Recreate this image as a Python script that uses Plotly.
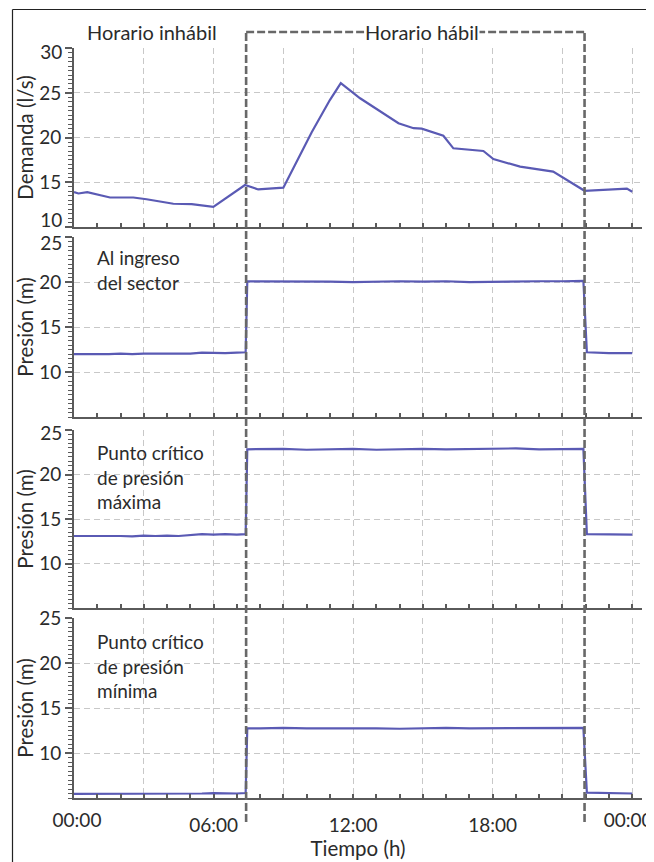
import plotly.graph_objects as go

# ---------------- data ----------------
demand_time = [0.0, 0.19, 0.57, 1.55, 2.55, 3.12, 4.27, 5.06, 5.99, 7.35, 7.92, 9.0,
               10.22, 11.0, 11.47, 12.3, 13.95, 14.6, 14.95, 15.88, 16.31, 17.6,
               18.03, 19.18, 20.6, 21.95, 23.77, 24.0]
demand_ls = [13.9, 13.75, 13.9, 13.3, 13.3, 13.1, 12.6, 12.55, 12.25, 14.7, 14.2, 14.4,
             20.6, 24.2, 26.1, 24.4, 21.6, 21.05, 21.0, 20.2, 18.8, 18.5,
             17.6, 16.75, 16.2, 14.05, 14.3, 13.95]

pressure_time = [0, 0.5, 1, 1.5, 2, 2.5, 3, 3.5, 4, 4.5, 5, 5.5, 6, 6.5, 7, 7.38,
                 7.45, 8, 9, 10, 11, 12, 13, 14, 15, 16, 17, 18, 19, 20, 21, 21.9,
                 22.05, 23, 24]
p_ingreso = [12.0, 12.0, 11.95, 12.0, 12.05, 12.0, 12.05, 12.05, 12.0, 12.05, 12.05, 12.15,
             12.1, 12.1, 12.15, 12.2,
             20.1, 20.1, 20.05, 20.1, 20.05, 20.0, 20.05, 20.1, 20.05, 20.1, 20.0, 20.05,
             20.1, 20.1, 20.1, 20.15,
             12.2, 12.1, 12.1]
p_maxima = [13.1, 13.1, 13.15, 13.1, 13.1, 13.05, 13.15, 13.1, 13.15, 13.1, 13.2, 13.3,
            13.25, 13.3, 13.25, 13.3,
            22.85, 22.85, 22.9, 22.8, 22.85, 22.9, 22.8, 22.85, 22.9, 22.85, 22.9, 22.95,
            22.95, 22.85, 22.85, 22.9,
            13.3, 13.25, 13.25]
p_minima = [5.45, 5.45, 5.5, 5.45, 5.45, 5.5, 5.45, 5.5, 5.45, 5.45, 5.5, 5.5,
            5.55, 5.5, 5.5, 5.55,
            12.75, 12.75, 12.8, 12.75, 12.75, 12.8, 12.75, 12.7, 12.75, 12.8, 12.75, 12.75,
            12.8, 12.8, 12.75, 12.8,
            5.6, 5.55, 5.5]

x_tickvals = [0, 3, 6, 9, 12, 15, 18, 21, 24]
x_ticktext = ["00:00", "", "06:00", "", "12:00", "", "18:00", "", "00:00"]
demand_ticks = [10, 15, 20, 25, 30]
pressure_ticks = [10, 15, 20, 25]

HABIL_START = 7.4
HABIL_END = 21.95

panel_labels = ["Al ingreso<br>del sector",
                "Punto crítico<br>de presión<br>máxima",
                "Punto crítico<br>de presión<br>mínima"]

# ---------------- style ----------------
FONT = "Lato"
TXT = "#2b2b2b"
LINE = "#5a5ab4"
AX = "#5a5a5a"
GRID = "#c8c8c8"
GDASH = "6px,4px"
TICKFONT = dict(family=FONT, size=19, color=TXT)
TITLEFONT = dict(family=FONT, size=20.5, color=TXT)
X_LABEL_STANDOFF = 9

OFF = 8  # page body margin
W, H = 654 - OFF, 862 - OFF
ML, MR, MT, MB = 74 - OFF, 12, 48 - OFF, 64
PH = H - MT - MB
PW = W - ML - MR


def py(px_page):
    return (H - MB - (px_page - OFF)) / PH


def px(px_page):
    return ((px_page - OFF) - ML) / PW


domains = [
    [py(227), py(48)],
    [py(417), py(237)],
    [py(608), py(430)],
    [py(798), py(618)],
]

fig = go.Figure()
series = [(demand_time, demand_ls), (pressure_time, p_ingreso),
          (pressure_time, p_maxima), (pressure_time, p_minima)]
for i, (t, v) in enumerate(series, start=1):
    fig.add_trace(go.Scatter(x=t, y=v, mode="lines",
                             line=dict(color=LINE, width=2.2),
                             xaxis=f"x{i}", yaxis=f"y{i}", showlegend=False,
                             hoverinfo="skip"))

xrange = [0, 24.42]
yranges = [[10, 30.02], [5, 25.02], [5, 25.02], [5, 25.02]]
# labels drawn at the panel edges are pulled inward, as in the source figure
edge_y_labels = {1: [(30, 4), (10, -7)], 2: [(25, 6)], 3: [(25, 3)]}

for i in range(1, 5):
    xa = dict(domain=[0, 1], anchor=f"y{i}", range=xrange, autorange=False,
              automargin=False,
              tickmode="array", tickvals=x_tickvals,
              ticktext=([""] + x_ticktext[1:-1] + [""]) if i == 4 else [""] * len(x_tickvals),
              showticklabels=(i == 4), ticklabeloverflow="allow",
              ticklabelstandoff=X_LABEL_STANDOFF,
              ticks="inside", ticklen=4, tickcolor=AX, tickwidth=1.5,
              minor=dict(tickmode="linear", tick0=0, dtick=1, ticks="inside",
                         ticklen=4, tickcolor=AX, tickwidth=1.5, showgrid=False),
              showgrid=True, gridcolor=GRID, griddash=GDASH, gridwidth=1.2,
              showline=True, linecolor=AX, linewidth=2, zeroline=False,
              tickfont=TICKFONT)
    if i != 4:
        xa["matches"] = "x4"
    else:
        xa["title"] = dict(text="Tiempo (h)", font=TITLEFONT, standoff=5)
    yt = demand_ticks if i == 1 else pressure_ticks
    edge_vals = [v for v, _ in edge_y_labels.get(i, [])]
    ya = dict(domain=domains[i - 1], anchor=f"x{i}", automargin=False,
              range=yranges[i - 1], autorange=False,
              tickmode="array", tickvals=yt,
              ticktext=["" if v in edge_vals else str(v) for v in yt],
              ticks="outside", ticklen=7, tickcolor=AX, tickwidth=1.5,
              minor=dict(tickmode="linear", tick0=0, dtick=0.5, ticks="outside",
                         ticklen=4, tickcolor=AX, tickwidth=1.2, showgrid=False),
              showgrid=True, gridcolor=GRID, griddash=GDASH, gridwidth=1.2,
              showline=True, linecolor=AX, linewidth=2, zeroline=False,
              tickfont=TICKFONT,
              title=dict(text="Demanda (l/s)" if i == 1 else "Presión (m)",
                         font=TITLEFONT, standoff=0))
    fig.layout[f"xaxis{'' if i == 1 else i}"] = xa
    fig.layout[f"yaxis{'' if i == 1 else i}"] = ya

# overlay axes carrying only the edge tick labels (shifted inward)
n = 5
for i, items in edge_y_labels.items():
    for v, shift in items:
        fig.layout[f"yaxis{n}"] = dict(
            overlaying="y" if i == 1 else f"y{i}", anchor=f"x{i}", side="left",
            range=yranges[i - 1], autorange=False, automargin=False,
            tickmode="array", tickvals=[v], ticktext=[str(v)],
            ticklabelshift=shift, ticks="outside", ticklen=7, tickcolor="rgba(0,0,0,0)",
            showgrid=False, showline=False, zeroline=False, tickfont=TICKFONT)
        fig.add_trace(go.Scatter(x=[None], y=[None], mode="lines", xaxis=f"x{i}",
                                 yaxis=f"y{n}", showlegend=False, hoverinfo="skip"))
        n += 1

nx = 5
for v, txt, shift in [(0, x_ticktext[0], 3), (24, x_ticktext[-1], -4)]:
    fig.layout[f"xaxis{nx}"] = dict(
        overlaying="x4", anchor="y4", side="bottom", range=xrange, autorange=False,
        automargin=False, tickmode="array", tickvals=[v], ticktext=[txt],
        ticklabelshift=shift, ticklabelstandoff=X_LABEL_STANDOFF, ticks="inside",
        ticklen=4, tickcolor="rgba(0,0,0,0)", ticklabeloverflow="allow",
        showgrid=False, showline=False, zeroline=False, tickfont=TICKFONT)
    fig.add_trace(go.Scatter(x=[None], y=[None], mode="lines", xaxis=f"x{nx}",
                             yaxis="y4", showlegend=False, hoverinfo="skip"))
    nx += 1

BOX = dict(color="#686868", width=2.6, dash="8px,3px")
y_top = py(32)
y_bot = py(822)
fig.add_shape(type="line", xref="x4", yref="paper", x0=HABIL_START, x1=HABIL_START,
              y0=y_bot, y1=y_top, line=BOX)
fig.add_shape(type="line", xref="x4", yref="paper", x0=HABIL_END, x1=HABIL_END,
              y0=y_bot, y1=y_top, line=BOX)
fig.add_shape(type="line", xref="x4", yref="paper", x0=HABIL_START, x1=HABIL_END,
              y0=y_top, y1=y_top, line=BOX)

# outer frame (top and left edges)
fx = px(12.5)
fy = py(9.5)
fig.add_shape(type="line", xref="paper", yref="paper", x0=fx, x1=1.2, y0=fy, y1=fy,
              line=dict(color="#222", width=1.2))
fig.add_shape(type="line", xref="paper", yref="paper", x0=fx, x1=fx, y0=fy, y1=-0.3,
              line=dict(color="#222", width=1.2))

fig.add_annotation(x=3.35, xref="x4", y=py(32), yref="paper", text="Horario inhábil",
                   showarrow=False, font=dict(family=FONT, size=20, color=TXT),
                   xanchor="center", yanchor="middle")
fig.add_annotation(x=14.97, xref="x4", y=py(32), yref="paper", text="Horario hábil",
                   showarrow=False, font=dict(family=FONT, size=20, color=TXT),
                   xanchor="center", yanchor="middle", bgcolor="white", borderpad=0)

label_tops = [245, 440, 629]
for txt, top in zip(panel_labels, label_tops):
    fig.add_annotation(x=0.95, xref="x4", y=py(top), yref="paper", text=txt,
                       showarrow=False, align="left", xanchor="left", yanchor="top",
                       borderpad=0,
                       font=dict(family=FONT, size=19, color=TXT))

fig.update_layout(width=W, height=H, margin=dict(l=ML, r=MR, t=MT, b=MB),
                  paper_bgcolor="white", plot_bgcolor="white",
                  font=dict(family=FONT, color=TXT))

fig.write_html("out.html")
